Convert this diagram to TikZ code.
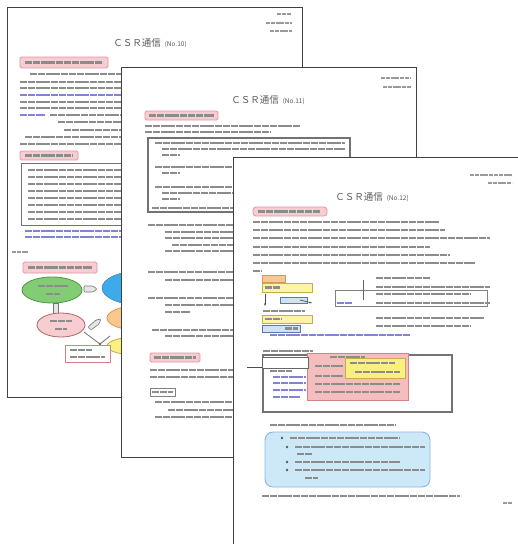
\documentclass[tikz,border=0pt]{standalone}
\usepackage{fontspec}
\newfontfamily\jpfont{Noto Sans CJK JP}
\usetikzlibrary{arrows.meta}

\definecolor{pinkfill}{RGB}{248,205,210}
\definecolor{pinkline}{RGB}{228,150,160}
\definecolor{bluetext}{RGB}{90,90,200}
\definecolor{greenfill}{RGB}{130,205,115}
\definecolor{greenline}{RGB}{80,150,70}
\definecolor{cyanfill}{RGB}{60,170,235}
\definecolor{orangefill}{RGB}{250,200,140}
\definecolor{orangeline}{RGB}{220,150,80}
\definecolor{yellowfill}{RGB}{250,240,130}
\definecolor{yellowline}{RGB}{195,175,70}
\definecolor{paleblue}{RGB}{210,225,245}
\definecolor{paleblueline}{RGB}{90,120,170}
\definecolor{memofill}{RGB}{205,232,246}
\definecolor{memoline}{RGB}{140,180,225}
\definecolor{redbox}{RGB}{245,190,190}
\definecolor{redboxline}{RGB}{215,130,130}

\tikzset{
  page/.style={fill=white, draw=black!75, line width=0.9pt},
  txt/.style={draw=black!45, line width=2.6pt, dash pattern=on 7pt off 0.8pt},
  btxt/.style={txt, draw=bluetext!75},
  smalltxt/.style={draw=black!40, line width=1.9pt, dash pattern=on 4pt off 0.8pt},
  label/.style={fill=pinkfill, draw=pinkline, line width=0.8pt, rounded corners=1.5pt},
  frame/.style={draw=black!55, line width=0.9pt},
  title/.style={text=black!65, inner sep=0pt},
  hollow/.style={fill=black!10, draw=black!55, line width=0.6pt},
}
% a grey bar standing for one line of small body text
\newcommand\txl[4][txt]{\draw[#1] (#2,#4) -- (#3,#4);}

\begin{document}
\begin{tikzpicture}[x=1pt,y=-1pt]
\useasboundingbox (0,0) rectangle (518,544);
\clip (0,0) rectangle (518,544);
\fill[white] (0,0) rectangle (518,544);

%% ---------------- sheet No.10 ----------------
\draw[page] (7,7) rectangle (302,397);
\txl[smalltxt]{277}{291}{14}
\txl[smalltxt]{266}{292}{23}
\txl[smalltxt]{270}{292}{31}
\node[title] (t10) at (150,43) {\fontsize{9.5}{9.5}\jpfont ＣＳＲ通信\hspace{4pt}\fontsize{6.5}{6.5}\selectfont (No.10)};
\draw[label] (20,57) rectangle (108,68);
\txl{25}{103}{62.5}
\txl{30}{300}{74}
\txl{20}{300}{82}
\txl{20}{300}{88}
\txl[btxt]{20}{300}{95}
\txl{20}{300}{102}
\txl{20}{300}{108}
\txl[btxt]{20}{45}{115}
\txl{50}{300}{115}
\txl{58}{300}{122}
\txl{64}{300}{130}
\txl{25}{300}{137}
\txl{20}{300}{144}
\draw[label] (20,151) rectangle (78,160);
\txl{25}{73}{155.5}
\draw[frame] (21,163) rectangle (300,225);
\foreach \yy in {170,177,184,191,198,205,212,219}{\txl{28}{298}{\yy}}
\txl[btxt]{25}{300}{231}
\txl[btxt]{25}{300}{237}
\txl[smalltxt]{12}{28}{252}
\draw[label] (23,262) rectangle (97,273);
\txl{28}{92}{267.5}
% bubble chart
\draw[fill=cyanfill, draw=cyanfill!70!black] (140,288) ellipse [x radius=38, y radius=17];
\draw[fill=greenfill, draw=greenline, line width=0.8pt] (52,290) ellipse [x radius=30, y radius=13];
\txl{38}{68}{286}
\txl{46}{60}{294}
\draw[hollow, rounded corners=1pt] (84,286) -- (93,286) -- (97,289) -- (93,292) -- (84,292) -- cycle;
\draw[hollow] (53,303) rectangle (58,317);
\draw[fill=orangefill, draw=orangeline, line width=0.8pt] (137,318) ellipse [x radius=30, y radius=12];
\draw[fill=yellowfill, draw=yellowline, line width=0.8pt] (137,346) ellipse [x radius=30, y radius=9];
\draw[fill=pinkfill, draw=redboxline!80!black, line width=0.8pt] (61,325) ellipse [x radius=24, y radius=12];
\txl{50}{72}{321}
\txl{55}{67}{329}
\draw[hollow, rounded corners=1pt] (88,327) -- (96,320) -- (101,319) -- (99,324) -- (91,330) -- cycle;
\draw[black!55, line width=0.8pt] (84,332) -- (100,344) -- (110,336);
\fill[black!60] (100,344) circle (1.3pt);
\draw[fill=white, draw=redboxline, line width=0.8pt] (65,345) rectangle (110,362);
\txl{70}{92}{350}
\txl{70}{105}{357}

%% ---------------- sheet No.11 ----------------
\draw[page] (121,67) rectangle (416,457);
\txl[smalltxt]{381}{411}{78}
\txl[smalltxt]{383}{411}{87}
\node[title] (t11) at (268,100) {\fontsize{9.5}{9.5}\jpfont ＣＳＲ通信\hspace{4pt}\fontsize{6.5}{6.5}\selectfont (No.11)};
\draw[label] (145,111) rectangle (218,120);
\txl{149}{214}{115.5}
\txl{145}{300}{126}
\txl{145}{270}{132}
\draw[frame, line width=1.2pt] (148,138) rectangle (350,212);
\txl{155}{345}{143}
\txl{162}{345}{149}
\txl{162}{180}{155}
\txl{155}{345}{167}
\txl{162}{180}{173}
\txl{155}{345}{187}
\txl{162}{345}{193}
\txl{162}{180}{199}
\txl{152}{345}{208}
\txl{148}{345}{225}
\txl{165}{345}{232}
\txl{165}{345}{238}
\txl{172}{345}{245}
\txl{165}{345}{251}
\txl{148}{345}{272}
\txl{165}{345}{280}
\txl{148}{345}{298}
\txl{165}{345}{305}
\txl{165}{190}{312}
\txl{152}{345}{330}
\txl{165}{345}{336}
\draw[label] (150,353) rectangle (200,362);
\txl{154}{196}{357.5}
\txl{150}{345}{370}
\txl{150}{345}{377}
\draw[black!50, line width=0.6pt] (150,388) rectangle (175,396);
\txl{152}{173}{392}
\txl{155}{345}{402}
\txl{168}{345}{410}
\txl{155}{345}{417}

%% ---------------- sheet No.12 ----------------
\draw[page] (233,157) rectangle (540,570);
\txl[smalltxt]{470}{512}{175}
\txl[smalltxt]{488}{512}{183}
\node[title] (t12) at (372,197) {\fontsize{9.5}{9.5}\jpfont ＣＳＲ通信\hspace{4pt}\fontsize{6.5}{6.5}\selectfont (No.12)};
\draw[label, rounded corners=3pt] (253,207) rectangle (327,216);
\txl{258}{320}{211.5}
\txl{253}{440}{222}
\txl{253}{445}{230}
\txl{253}{490}{238}
\txl{253}{430}{247}
\txl{253}{450}{255}
\txl{253}{475}{263}
\txl{253}{262}{271}
% flow on the left
\draw[fill=orangefill, draw=orangeline, line width=0.8pt] (262,275) rectangle (285,282);
\draw[fill=yellowfill!70, draw=yellowline, line width=0.8pt] (262,283) rectangle (312,292);
\txl{265}{280}{287.5}
\draw[black!70, line width=0.8pt, -{Stealth[length=3pt]}] (265,294) -- (265,306);
\draw[fill=paleblue, draw=paleblueline, line width=0.8pt] (280,297) rectangle (307,303);
\draw[black!70, line width=0.7pt, -{Stealth[length=2.5pt]}] (300,300) -- (312,303);
\txl{263}{305}{311}
\draw[fill=yellowfill!70, draw=yellowline, line width=0.8pt] (262,315) rectangle (312,323);
\txl{265}{282}{319}
\draw[fill=paleblue, draw=paleblueline, line width=0.8pt] (262,325) rectangle (300,332);
\txl{285}{298}{328.5}
\txl[btxt]{270}{410}{335}
% notes on the right
\draw[black!50, line width=0.7pt] (335,290) rectangle (487,306);
\draw[black!60, line width=0.7pt] (363,280) -- (363,300);
\txl{376}{430}{278}
\txl{376}{490}{287}
\txl{376}{470}{294}
\txl[btxt]{337}{352}{303}
\txl{376}{490}{303}
\txl{376}{485}{318}
\txl{376}{470}{326}
% storage sketch
\txl{263}{313}{351}
\draw[frame, line width=1.2pt] (263,355) rectangle (452,412);
\draw[fill=redbox, draw=redboxline, line width=0.8pt] (307,353) rectangle (408,400);
\draw[fill=yellowfill, draw=yellowline, line width=0.8pt] (345,358) rectangle (405,378);
\txl{330}{365}{357}
\txl{350}{395}{363}
\txl{355}{400}{372}
\txl{315}{343}{366}
\txl{315}{343}{376}
\txl{315}{400}{384}
\txl{315}{400}{392}
\draw[fill=white, draw=black!60, line width=0.8pt] (262,357) rectangle (308,368);
\draw[black!70, line width=0.8pt] (247,367) -- (262,367);
\txl{270}{292}{371}
\txl[btxt]{273}{306}{377}
\txl[btxt]{273}{306}{383}
\txl[btxt]{273}{306}{390}
\txl[btxt]{273}{300}{397}
\txl{270}{395}{425}
% checklist panel
\draw[fill=memofill, draw=memoline, line width=0.9pt, rounded corners=8pt] (265,432) rectangle (430,487);
\foreach \yy/\xa/\xb in {438/290/400, 447/295/425, 462/295/400, 470/295/425}{
  \fill[black!65] (\xa-8,\yy) circle (1.4pt);
  \txl{\xa}{\xb}{\yy}
}
\txl{297}{312}{454}
\txl{305}{318}{478}
\txl{262}{460}{496}
\txl[smalltxt]{503}{512}{503}
\end{tikzpicture}
\end{document}
